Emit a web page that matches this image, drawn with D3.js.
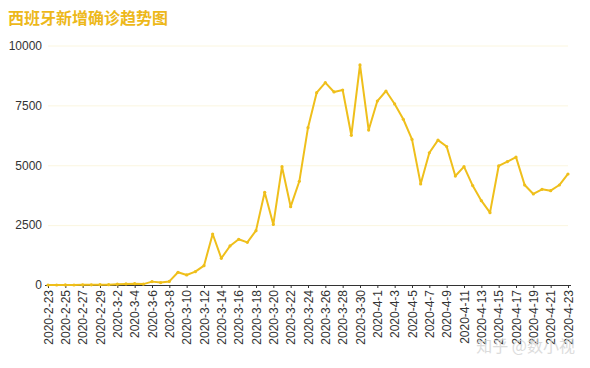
<!DOCTYPE html>
<html>
<head>
<meta charset="utf-8">
<script src="https://cdn.jsdelivr.net/npm/d3@7"></script>
<style>
  body { margin: 0; background: #fff; }
  text { font-family: "Liberation Sans", Arial, sans-serif; }
</style>
</head>
<body>
<div class="chart"></div>
<script>
const title = "西班牙新增确诊趋势图"

const dates = [
  "2020-2-23","2020-2-24","2020-2-25","2020-2-26","2020-2-27","2020-2-28","2020-2-29",
  "2020-3-1","2020-3-2","2020-3-3","2020-3-4","2020-3-5","2020-3-6","2020-3-7","2020-3-8",
  "2020-3-9","2020-3-10","2020-3-11","2020-3-12","2020-3-13","2020-3-14","2020-3-15",
  "2020-3-16","2020-3-17","2020-3-18","2020-3-19","2020-3-20","2020-3-21","2020-3-22",
  "2020-3-23","2020-3-24","2020-3-25","2020-3-26","2020-3-27","2020-3-28","2020-3-29",
  "2020-3-30","2020-3-31","2020-4-1","2020-4-2","2020-4-3","2020-4-4","2020-4-5",
  "2020-4-6","2020-4-7","2020-4-8","2020-4-9","2020-4-10","2020-4-11","2020-4-12",
  "2020-4-13","2020-4-14","2020-4-15","2020-4-16","2020-4-17","2020-4-18","2020-4-19",
  "2020-4-20","2020-4-21","2020-4-22","2020-4-23"
]

const newCases = [
  0, 0, 4, 1, 8, 8, 13,
  13, 36, 45, 57, 37, 141, 100, 150,
  530, 420, 556, 806, 2130, 1115, 1630,
  1908, 1780, 2270, 3870, 2530, 4940, 3270,
  4330, 6570, 8030, 8450, 8060, 8140, 6250,
  9190, 6470, 7680, 8100, 7560, 6920, 6080,
  4220, 5520, 6050, 5780, 4550, 4940, 4150,
  3520, 3020, 4970, 5150, 5340, 4175, 3800,
  3995, 3940, 4175, 4635
]

const yTicks = [0, 2500, 5000, 7500, 10000]

const width = 590
const height = 368
const margin = { top: 45.5, right: 22, bottom: 83, left: 48 }
const boundedWidth = width - margin.left - margin.right
const boundedHeight = height - margin.top - margin.bottom

const lineColor = "#efbf1b"

const xScale = d3.scalePoint()
  .domain(dates)
  .range([0, boundedWidth])

const yScale = d3.scaleLinear()
  .domain([0, 10000])
  .range([boundedHeight, 0])

const svg = d3.select(".chart").append("svg")
  .attr("width", width)
  .attr("height", height)

svg.append("text")
  .attr("x", 8)
  .attr("y", 24)
  .style("font-family", "'Noto Sans CJK SC', sans-serif")
  .style("font-size", "16px")
  .style("font-weight", "bold")
  .style("fill", "#edb81a")
  .text(title)

const bounds = svg.append("g")
  .attr("transform", `translate(${margin.left},${margin.top})`)

// y axis with faint grid lines
const yAxis = d3.axisLeft(yScale)
  .tickValues(yTicks)
  .tickFormat(d3.format("d"))
  .tickSize(-boundedWidth)
  .tickPadding(6)

bounds.append("g")
  .call(yAxis)
  .call(g => g.select(".domain").remove())
  .call(g => g.selectAll(".tick line")
    .attr("stroke", "#fbf6df")
    .attr("stroke-width", 1))
  .call(g => g.selectAll(".tick text")
    .style("font-size", "12px")
    .style("fill", "#333"))

// x axis, every other date labelled
const xAxis = d3.axisBottom(xScale)
  .tickValues(dates.filter((d, i) => i % 2 == 0))
  .tickSize(3)
  .tickPadding(4)

bounds.append("g")
  .attr("transform", `translate(0,${boundedHeight})`)
  .call(xAxis)
  .call(g => g.select(".domain")
    .attr("stroke", "#333")
    .attr("d", `M${-3},0.5H${boundedWidth + 3}`))
  .call(g => g.selectAll(".tick line").attr("stroke", "#333"))
  .call(g => g.selectAll(".tick text")
    .attr("transform", "rotate(-90)")
    .attr("text-anchor", "end")
    .attr("x", -5)
    .attr("y", 0)
    .attr("dy", "0.35em")
    .style("font-size", "12px")
    .style("fill", "#333"))

const points = dates.map((d, i) => ({ date: d, value: newCases[i] }))

const lineGenerator = d3.line()
  .x(d => xScale(d.date))
  .y(d => yScale(d.value))

bounds.append("path")
  .datum(points)
  .attr("d", lineGenerator)
  .attr("fill", "none")
  .attr("stroke", lineColor)
  .attr("stroke-width", 2)
  .attr("stroke-linejoin", "round")

bounds.selectAll(".dot")
  .data(points)
  .join("circle")
    .attr("class", "dot")
    .attr("cx", d => xScale(d.date))
    .attr("cy", d => yScale(d.value))
    .attr("r", 1.6)
    .attr("fill", lineColor)

// watermark
svg.append("text")
  .attr("x", 575)
  .attr("y", 352)
  .attr("text-anchor", "end")
  .style("font-family", "'Noto Sans CJK SC', sans-serif")
  .style("font-size", "16px")
  .style("fill", "#d4d4d4")
  .style("opacity", 0.8)
  .text("知乎 @数小视")
</script>
</body>
</html>
